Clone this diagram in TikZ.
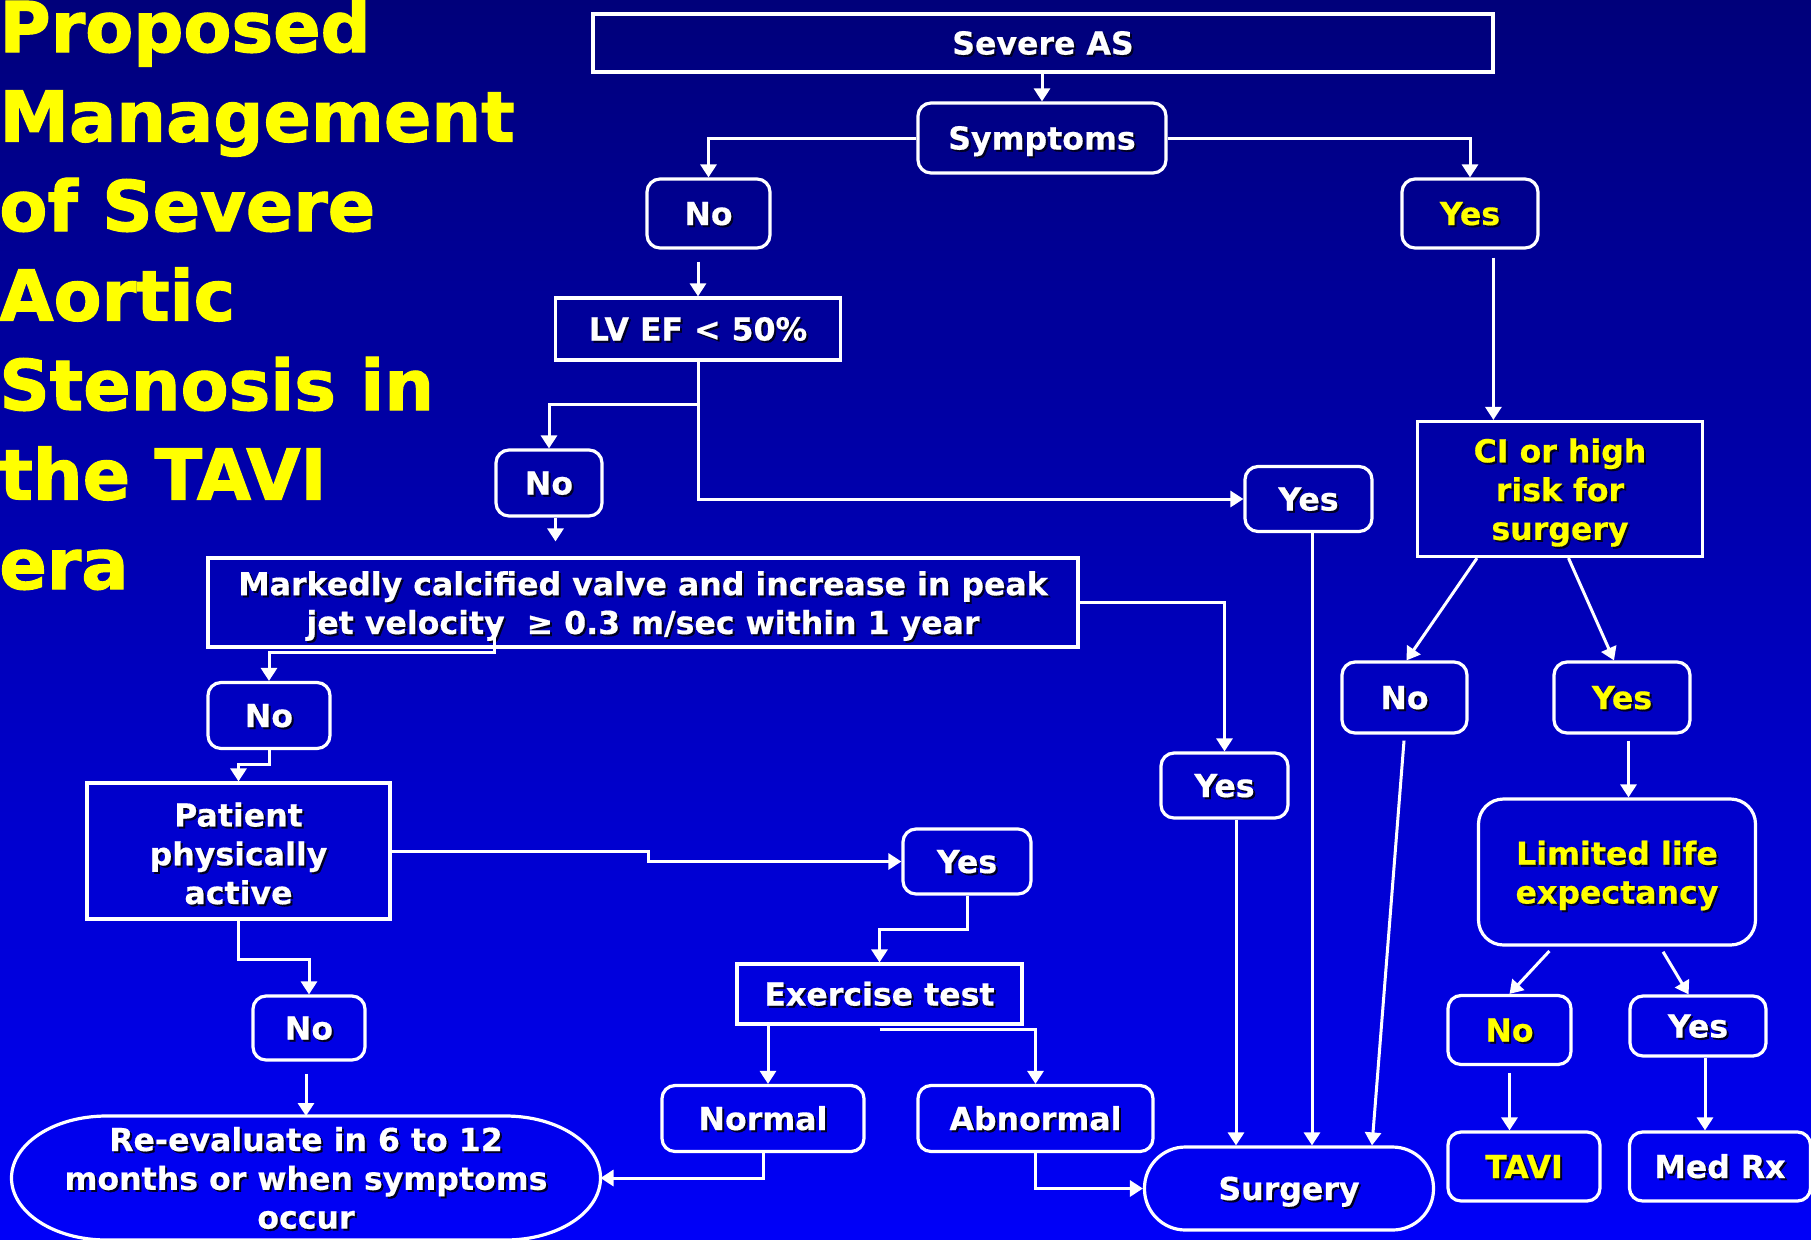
\documentclass[tikz,border=0pt]{standalone}
\usepackage{fontspec}
\setmainfont{DejaVu Sans}
\newfontfamily\titlefont{DejaVu Sans Bold}[FakeBold=1.6]
\newfontfamily\boxfont{DejaVu Sans Bold}[FakeBold=0.5]
\usetikzlibrary{arrows.meta}
\definecolor{bgtop}{RGB}{0,0,122}
\definecolor{bgbot}{RGB}{0,0,248}
\definecolor{hl}{RGB}{255,255,0}
\definecolor{shadowc}{RGB}{0,0,35}
% a flowchart node with a dark drop shadow under its text
\newcommand\flownode[4]{%
  \node[#1, draw=none, text=shadowc, xshift=1pt, yshift=-1pt] (#2-sh) at (#3) {#4};
  \node[#1] (#2) at (#3) {#4};
}
% lowers a block of lines slightly inside its box
\newcommand\lowered[1]{\rule{0pt}{#1}}
\begin{document}
\begin{tikzpicture}[x=0.5pt, y=-0.5pt,
  base/.style={align=center, inner sep=0pt, text=white, line width=1.6pt, draw=white,
    font=\boxfont\fontsize{15.8}{19.4}\selectfont},
  sq/.style={base, rectangle},
  rnd/.style={base, rectangle, rounded corners=6.5pt},
  one/.style={text height=11.5pt, text depth=0pt},
  yel/.style={text=hl},
  conn/.style={draw=white, line width=1.5pt, -{Triangle[length=6.5pt,width=8pt]}},
  wh/.style={draw=white, line width=1.6pt},
  ttl/.style={anchor=base west, inner sep=0pt, text=hl, font=\titlefont\fontsize{35}{45}\selectfont}
]
\useasboundingbox (0,0) rectangle (1811,1239);
\shade[top color=bgtop, bottom color=bgbot] (0,0) rectangle (1811,1239);

% title
\foreach \t [count=\i from 0] in {Proposed, Management, of Severe, Aortic, Stenosis in, the TAVI, era}
  \node[ttl] (title\i) at (-1,52+89.5*\i) {\t};

% nodes
\flownode{sq, one, minimum width=450pt, minimum height=29pt}{sev}{1043,43}{Severe AS}
\flownode{rnd, one, minimum width=124pt, minimum height=35pt}{sym}{1042,138}{Symptoms}
\flownode{rnd, one, minimum width=61.5pt, minimum height=34.5pt}{no1}{708.5,213.5}{No}
\flownode{rnd, one, yel, minimum width=68pt, minimum height=34.5pt}{yes1}{1470,213.5}{Yes}
\flownode{sq, one, minimum width=142.5pt, minimum height=31pt}{lvef}{698,329}{LV EF < 50\%}
\flownode{rnd, one, minimum width=53pt, minimum height=33pt}{no2}{549,483}{No}
\flownode{rnd, one, minimum width=63.5pt, minimum height=32.5pt}{yes2}{1308.5,499}{Yes}
\flownode{sq, minimum width=435pt, minimum height=44.5pt}{calc}{643,602.5}{\lowered{15.5pt}Markedly calcified valve and increase in peak\\jet velocity\ \ ≥ 0.3 m/sec within 1 year}
\flownode{rnd, one, minimum width=63.5pt, minimum height=32.5pt}{yes3}{1224.5,785.5}{Yes}
\flownode{rnd, one, minimum width=61pt, minimum height=33pt}{no3}{269,715.5}{No}
\flownode{sq, minimum width=151.5pt, minimum height=68pt}{pat}{238.5,851}{\lowered{14.5pt}Patient\\physically\\active}
\flownode{rnd, one, minimum width=64pt, minimum height=32.5pt}{yes4}{967,861.5}{Yes}
\flownode{sq, one, minimum width=142.5pt, minimum height=30pt}{ex}{879.5,994}{Exercise test}
\flownode{rnd, one, minimum width=101pt, minimum height=33pt}{normal}{763,1118.5}{Normal}
\flownode{rnd, one, minimum width=117.5pt, minimum height=33pt}{abn}{1035.5,1118.5}{Abnormal}
\flownode{rnd, one, minimum width=56pt, minimum height=32pt}{no4}{309,1028}{No}
\flownode{base, draw=none, outer sep=0pt, minimum width=294.5pt, minimum height=62pt}{reev}{306,1178}{Re-evaluate in 6 to 12\\months or when symptoms\\occur}
\flownode{base, one, rounded corners=20.5pt, minimum width=144.5pt, minimum height=41.5pt}{surg}{1289,1188.5}{Surgery}
\flownode{sq, yel, minimum width=142.5pt, minimum height=67.5pt}{ci}{1560,489}{\lowered{15.5pt}CI or high\\risk for\\surgery}
\flownode{rnd, one, minimum width=62.5pt, minimum height=35.5pt}{no5}{1404.5,697.5}{No}
\flownode{rnd, one, yel, minimum width=68pt, minimum height=35.5pt}{yes5}{1622,697.5}{Yes}
\flownode{base, yel, rounded corners=12.5pt, minimum width=138.5pt, minimum height=73pt}{life}{1617,872}{\lowered{15.5pt}Limited life\\expectancy}
\flownode{rnd, one, yel, minimum width=61.5pt, minimum height=34.5pt}{no6}{1509.5,1030}{No}
\flownode{rnd, one, minimum width=68pt, minimum height=30pt}{yes6}{1698,1026}{Yes}
\flownode{rnd, one, yel, minimum width=76pt, minimum height=34.5pt}{tavi}{1524,1166.5}{TAVI}
\flownode{rnd, one, minimum width=90.5pt, minimum height=34.5pt}{medrx}{1720,1166.5}{Med Rx}

% outline of the re-evaluation terminal (elliptic ends)
\draw[wh] ([xshift=47.5pt]reev.north west) -- ([xshift=-47.5pt]reev.north east)
  arc[start angle=90, end angle=-90, x radius=47.5pt, y radius=31pt]
  -- ([xshift=47.5pt]reev.south west)
  arc[start angle=270, end angle=90, x radius=47.5pt, y radius=31pt] -- cycle;

% connectors: upper part
\draw[conn] (sym.north |- sev.south) -- (sym.north);
\draw[conn] (sym.west) -| (no1.north);
\draw[conn] (sym.east) -| (yes1.north);
\draw[conn, shorten <=6pt] (lvef.north |- no1.south) -- (lvef.north);
\coordinate (lvsplit) at (698,404);
\draw[conn] (lvef.south) -- (lvsplit) -| (no2.north);
\draw[conn] (lvsplit) |- (yes2.west);
\coordinate (no2out) at ([xshift=3.25pt]no2.south);
\draw[conn, shorten >=7.5pt] (no2out) -- (no2out |- calc.north);
\draw[conn] (calc.east) -| (yes3.north);
\coordinate (calcout) at (494,624);
\draw[conn] (calcout) -- ++(0,28.6) -| (no3.north);

% connectors: left part
\draw[conn] (no3.south) -- ++(0,14) -| (pat.north);
\draw[conn] (pat.east) -- ++(257,0) |- (yes4.west);
\draw[conn] (yes4.south) -- ++(0,33.5) -| (ex.north);
\coordinate (exl) at ([xshift=2.5pt]normal.north);
\draw[conn] (exl |- ex.south) -- (exl);
\draw[conn] ([yshift=-1.75pt]ex.south) -| (abn.north);
\draw[conn] (normal.south) |- (reev.east);
\draw[conn] (abn.south) |- (surg.west);
\draw[conn] (pat.south) -- ++(0,38.5) -| (no4.north);
\draw[conn, shorten <=6pt] (reev.north |- no4.south) -- (reev.north);

% connectors into Surgery
\coordinate (y3out) at ([xshift=5.75pt]yes3.south);
\draw[conn] (y3out) -- (y3out |- surg.north);
\coordinate (y2out) at ([xshift=1.75pt]yes2.south);
\draw[conn] (y2out) -- (y2out |- surg.north);
\draw[conn, shorten <=3pt] (no5.south) -- ([xshift=41.5pt]surg.north);

% connectors: right branch
\coordinate (y1out) at ([xshift=11.7pt]yes1.south);
\draw[conn, shorten <=4pt] (y1out) -- (y1out |- ci.north);
\draw[conn] ([xshift=-41.5pt]ci.south) -- ([xshift=1pt]no5.north);
\draw[conn] ([xshift=4.25pt]ci.south) -- ([xshift=-4pt]yes5.north);
\coordinate (y5out) at ([xshift=3.25pt]yes5.south);
\draw[conn, shorten <=3pt] (y5out) -- (y5out |- life.north);
\draw[conn, shorten <=3pt] ([xshift=-31.75pt]life.south) -- (no6.north);
\draw[conn, shorten <=3pt] ([xshift=21.5pt]life.south) -- ([xshift=-4.7pt]yes6.north);
\draw[conn, shorten <=3.5pt] (no6.south) -- (no6.south |- tavi.north);
\coordinate (y6out) at ([xshift=3.5pt]yes6.south);
\draw[conn] (y6out) -- (y6out |- medrx.north);
\end{tikzpicture}
\end{document}
